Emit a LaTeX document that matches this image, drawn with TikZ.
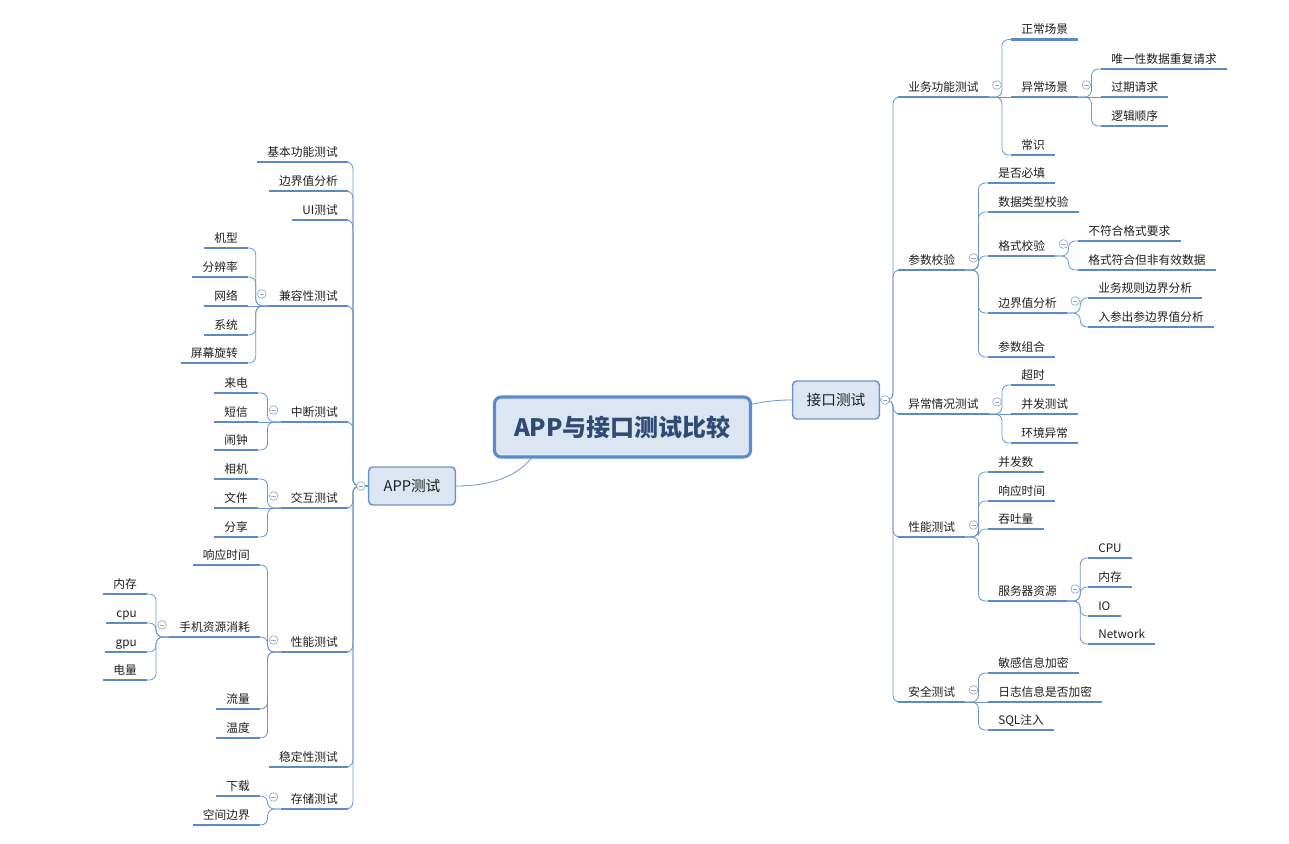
\documentclass[tikz,border=0pt]{standalone}
\usepackage{fontspec}
\newfontfamily\cjk{Noto Sans CJK SC}
\definecolor{ulc}{HTML}{5B8AC6}
\definecolor{linec}{HTML}{6C96CC}
\definecolor{foldc}{HTML}{95AACB}
\definecolor{fillc}{HTML}{DCE6F2}
\definecolor{boxc}{HTML}{6E95C9}
\definecolor{mainc}{HTML}{5A8AD0}
\definecolor{maintxt}{HTML}{2F4A75}
\definecolor{txt}{HTML}{1F1F1F}
\tikzset{
	uline/.style={draw=ulc, line width=2.1pt},
	topic/.style={font=\cjk\fontsize{8.8}{10}\selectfont, text=txt, inner xsep=7.5pt, inner ysep=0pt,
		text height=7.5pt, text depth=4.2pt,
		append after command={(\tikzlastnode.south west) edge[uline] (\tikzlastnode.south east)}},
	rt/.style={topic, anchor=south west},
	lt/.style={topic, anchor=south east},
	conn/.style={draw=linec, line width=0.6pt, rounded corners=5pt},
	fold/.style={circle, draw=foldc, fill=white, line width=0.5pt, minimum size=6.5pt, inner sep=0pt,
		path picture={\draw[foldc, line width=0.5pt] (path picture bounding box.west) ++(1.6pt,0) -- ++(3.3pt,0);}},
	branch/.style={draw=boxc, fill=fillc, line width=1.1pt, rounded corners=3pt, minimum width=65pt,
		minimum height=28.5pt, font=\cjk\fontsize{11}{12}\selectfont, text=txt},
	root/.style={draw=mainc, fill=fillc, line width=2.3pt, rounded corners=5pt, minimum width=192pt,
		minimum height=45pt, font=\cjk\bfseries\fontsize{18}{20}\selectfont, text=maintxt}
}
\begin{document}
\begin{tikzpicture}[x=0.75pt,y=-0.75pt]
		\useasboundingbox (0,0) rectangle (1289,843);
		\node[root] (main) at (622.5,427) {APP与接口测试比较};
		\node[branch] (api) at (836,400) {接口测试};
		\node[branch] (app) at (412,486) {APP测试};
		\draw[conn] (main.10) .. controls +(15,-3) and +(-15,0) .. (api.west);
		\draw[conn] (main.199) .. controls +(-12,15) and +(40,0) .. (app.east);
		% 接口测试
		\foreach \nm/\y/\t in {biz/97/业务功能测试, para/270/参数校验, exc/414/异常情况测试, perf/537/性能测试, sec/702/安全测试}{
			\node[rt] (\nm) at (898,\y) {\t};
			\draw[conn] (api.east) -- +(13,0) |- (\nm.south west);
		}
		\node[rt] (abn) at (1011,97) {异常场景};
		\draw[conn] (biz.south east) -- (abn.south west);
		\foreach \nm/\y/\t in {norm/39.5/正常场景, comm/155/常识}{
			\node[rt] (\nm) at (1011,\y) {\t};
			\draw[conn] (biz.south east) -- +(13,0) |- (\nm.south west);
		}
		\node[rt] (exp) at (1101,97) {过期请求};
		\draw[conn] (abn.south east) -- (exp.south west);
		\foreach \nm/\y/\t in {uniq/69/唯一性数据重复请求, order/126/逻辑顺序}{
			\node[rt] (\nm) at (1101,\y) {\t};
			\draw[conn] (abn.south east) -- +(13,0) |- (\nm.south west);
		}
		\foreach \nm/\y/\t in {must/183/是否必填, dtype/212/数据类型校验, fmt/256/格式校验, bnd/313/边界值分析, combo/357/参数组合}{
			\node[rt] (\nm) at (988,\y) {\t};
			\draw[conn] (para.south east) -- +(13,0) |- (\nm.south west);
		}
		\foreach \nm/\y/\t in {fmta/241/不符合格式要求, fmtb/270/格式符合但非有效数据}{
			\node[rt] (\nm) at (1078,\y) {\t};
			\draw[conn] (fmt.south east) -- +(13,0) |- (\nm.south west);
		}
		\foreach \nm/\y/\t in {bnda/298/业务规则边界分析, bndb/327/入参出参边界值分析}{
			\node[rt] (\nm) at (1088,\y) {\t};
			\draw[conn] (bnd.south east) -- +(13,0) |- (\nm.south west);
		}
		\node[rt] (conc) at (1011,414) {并发测试};
		\draw[conn] (exc.south east) -- (conc.south west);
		\foreach \nm/\y/\t in {tout/385/超时, env/443/环境异常}{
			\node[rt] (\nm) at (1011,\y) {\t};
			\draw[conn] (exc.south east) -- +(13,0) |- (\nm.south west);
		}
		\foreach \nm/\y/\t in {pconc/472/并发数, prt/501/响应时间, tput/529/吞吐量, srv/601/服务器资源}{
			\node[rt] (\nm) at (988,\y) {\t};
			\draw[conn] (perf.south east) -- +(13,0) |- (\nm.south west);
		}
		\foreach \nm/\y/\t in {scpu/558/CPU, smem/587/内存, sio/616/IO, snet/644/Network}{
			\node[rt] (\nm) at (1088,\y) {\t};
			\draw[conn] (srv.south east) -- +(13,0) |- (\nm.south west);
		}
		\node[rt] (log) at (988,702) {日志信息是否加密};
		\draw[conn] (sec.south east) -- (log.south west);
		\foreach \nm/\y/\t in {enc/673/敏感信息加密, sql/730/SQL注入}{
			\node[rt] (\nm) at (988,\y) {\t};
			\draw[conn] (sec.south east) -- +(13,0) |- (\nm.south west);
		}
		% APP测试
		\foreach \nm/\y/\t in {basic/162/基本功能测试, lbnd/191/边界值分析, ui/220/UI测试, compat/306/兼容性测试, intr/422/中断测试, inter/508/交互测试, lperf/652/性能测试, stab/767/稳定性测试, stor/809/存储测试}{
			\node[lt] (\nm) at (348,\y) {\t};
			\draw[conn] (app.west) -- +(-15,0) |- (\nm.south east);
		}
		\node[lt] (net) at (248,306) {网络};
		\draw[conn] (compat.south west) -- (net.south east);
		\foreach \nm/\y/\t in {model/248/机型, res/277/分辨率, os/335/系统, rot/363/屏幕旋转}{
			\node[lt] (\nm) at (248,\y) {\t};
			\draw[conn] (compat.south west) -- +(-13,0) |- (\nm.south east);
		}
		\node[lt] (sms) at (258,422) {短信};
		\draw[conn] (intr.south west) -- (sms.south east);
		\foreach \nm/\y/\t in {call/393/来电, alarm/450/闹钟}{
			\node[lt] (\nm) at (258,\y) {\t};
			\draw[conn] (intr.south west) -- +(-13,0) |- (\nm.south east);
		}
		\node[lt] (file) at (258,508) {文件};
		\draw[conn] (inter.south west) -- (file.south east);
		\foreach \nm/\y/\t in {cam/479/相机, share/537/分享}{
			\node[lt] (\nm) at (258,\y) {\t};
			\draw[conn] (inter.south west) -- +(-13,0) |- (\nm.south east);
		}
		\foreach \nm/\y/\t in {lrt/565/响应时间, mob/637/手机资源消耗, flow/709/流量, temp/738/温度}{
			\node[lt] (\nm) at (260,\y) {\t};
			\draw[conn] (lperf.south west) -- +(-13,0) |- (\nm.south east);
		}
		\foreach \nm/\y/\t in {lmem/594/内存, lcpu/623/cpu, lgpu/652/gpu, batt/680/电量}{
			\node[lt] (\nm) at (147,\y) {\t};
			\draw[conn] (mob.south west) -- +(-13,0) |- (\nm.south east);
		}
		\foreach \nm/\y/\t in {down/796/下载, space/825/空间边界}{
			\node[lt] (\nm) at (260,\y) {\t};
			\draw[conn] (stor.south west) -- +(-13,0) |- (\nm.south east);
		}
		% fold marks
		\path (api.east) ++(5,0) node[fold] {};
		\path (app.west) ++(-7,0) node[fold] {};
		\foreach \nm in {biz,abn,para,fmt,bnd,exc,perf,srv,sec}
		\path (\nm.south east) ++(8,-12) node[fold] {};
		\foreach \nm in {compat,intr,inter,lperf,mob,stor}
		\path (\nm.south west) ++(-7,-12) node[fold] {};
	\end{tikzpicture}
\end{document}
